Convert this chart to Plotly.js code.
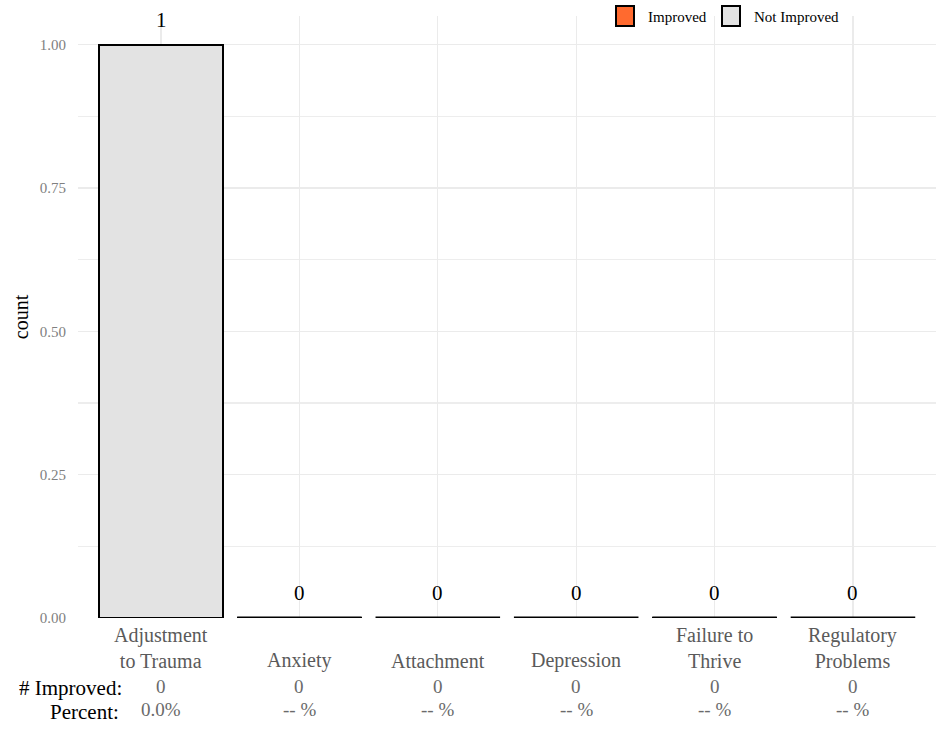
<!DOCTYPE html>
<html>
<head>
<meta charset="utf-8">
<script src="https://cdn.plot.ly/plotly-3.0.1.min.js"></script>
<style>html,body{margin:0;padding:0;background:#fff;}#chart{width:936px;height:731px;}</style>
</head>
<body>
<div id="chart"></div>
<script>
// ---- data ----
const categories = ["Adjustment to Trauma", "Anxiety", "Attachment", "Depression", "Failure to Thrive", "Regulatory Problems"];
const categoryLabels = ["Adjustment<br>to Trauma", "Anxiety", "Attachment", "Depression", "Failure to<br>Thrive", "Regulatory<br>Problems"];
const seriesNames = ["Improved", "Not Improved"];
const seriesColors = ["#FF6A2F", "#E3E3E3"];
const improved = [0, 0, 0, 0, 0, 0];
const notImproved = [1, 0, 0, 0, 0, 0];
const improvedLabels = ["0", "0", "0", "0", "0", "0"];
const percentLabels = ["0.0%", "-- %", "-- %", "-- %", "-- %", "-- %"];
const yTickVals = [0, 0.25, 0.5, 0.75, 1];
const yTickText = ["0.00", "0.25", "0.50", "0.75", "1.00"];

// ---- derived ----
const xIdx = categories.map((_, i) => i);
const totals = categories.map((_, i) => improved[i] + notImproved[i]);

const FONT = "Liberation Serif, Times New Roman, serif";
const W = 936, H = 731;
const M = {l: 78, r: 0, t: 16, b: 113};
const plotH = H - M.t - M.b, plotW = W - M.l - M.r;
const py = (pix) => (H - M.b - pix) / plotH;   // pixel row -> paper y
const px = (pix) => (pix - M.l) / plotW;       // pixel col -> paper x

const halfW = 0.45;
const zx = [], zy = [];
xIdx.forEach(i => {
  if (totals[i] === 0) { zx.push(i - halfW, i + halfW, null); zy.push(0, 0, null); }
});

const traces = [
  {type: 'bar', name: seriesNames[0], x: xIdx, y: improved, width: 0.9, showlegend: false,
   marker: {color: seriesColors[0], line: {color: '#000', width: 2}}, hoverinfo: 'skip'},
  {type: 'bar', name: seriesNames[1], x: xIdx, y: notImproved, width: 0.9, showlegend: false,
   marker: {color: seriesColors[1], line: {color: '#000', width: 2}}, hoverinfo: 'skip'},
  {type: 'scatter', mode: 'lines', x: zx, y: zy, showlegend: false,
   line: {color: '#000', width: 3}, hoverinfo: 'skip', cliponaxis: false}
];

const annotations = [];
xIdx.forEach(i => {
  annotations.push({x: i, y: totals[i], xref: 'x', yref: 'y', text: String(totals[i]),
    showarrow: false, yanchor: 'bottom', yshift: 11, font: {family: FONT, size: 21, color: '#000'}});
  annotations.push({x: i, y: py(674), xref: 'x', yref: 'paper', text: categoryLabels[i],
    showarrow: false, yanchor: 'bottom', font: {family: FONT, size: 20, color: '#5A5A5A'}});
  annotations.push({x: i, y: py(686), xref: 'x', yref: 'paper', text: improvedLabels[i],
    showarrow: false, yanchor: 'middle', font: {family: FONT, size: 19, color: '#6A6A6A'}});
  annotations.push({x: i, y: py(710), xref: 'x', yref: 'paper', text: percentLabels[i],
    showarrow: false, yanchor: 'middle', font: {family: FONT, size: 19, color: '#6A6A6A'}});
});
annotations.push({x: px(124), y: py(688), xref: 'paper', yref: 'paper', xanchor: 'right', yanchor: 'middle',
  text: '# Improved:', showarrow: false, font: {family: FONT, size: 21, color: '#000'}});
annotations.push({x: px(121), y: py(712), xref: 'paper', yref: 'paper', xanchor: 'right', yanchor: 'middle',
  text: 'Percent:', showarrow: false, font: {family: FONT, size: 21, color: '#000'}});

// custom legend (larger keys, like the reference)
const legendKeyX = [616, 722];
const legendTextX = [646, 752];
const shapes = [];
seriesNames.forEach((name, k) => {
  shapes.push({type: 'rect', xref: 'paper', yref: 'paper',
    x0: px(legendKeyX[k]), x1: px(legendKeyX[k] + 18), y0: py(26), y1: py(6),
    fillcolor: seriesColors[k], line: {color: '#000', width: 2}});
  annotations.push({x: px(legendTextX[k]), y: py(17), xref: 'paper', yref: 'paper', xanchor: 'left',
    yanchor: 'middle', text: name, showarrow: false, font: {family: FONT, size: 15, color: '#000'}});
});

const layout = {
  width: W, height: H, margin: M,
  paper_bgcolor: '#fff', plot_bgcolor: '#fff',
  barmode: 'stack', bargap: 0.1,
  font: {family: FONT},
  showlegend: false,
  xaxis: {type: 'linear', range: [-0.6, 5.6], tickvals: xIdx, showticklabels: false,
          showgrid: true, gridcolor: '#EBEBEB', gridwidth: 1.2, zeroline: false, ticks: '', fixedrange: true},
  yaxis: {range: [0, 1.05], tickvals: yTickVals, ticktext: yTickText, showgrid: true,
          gridcolor: '#EBEBEB', gridwidth: 1.5, zeroline: false,
          minor: {dtick: 0.125, showgrid: true, gridcolor: '#EDEDED', gridwidth: 1.2},
          ticks: 'outside', ticklen: 8, tickcolor: 'rgba(0,0,0,0)',
          tickfont: {family: FONT, size: 15, color: '#808080'},
          title: {text: 'count', font: {family: FONT, size: 20, color: '#000'}, standoff: 5}},
  shapes: shapes,
  annotations: annotations
};

Plotly.newPlot('chart', traces, layout, {displayModeBar: false, staticPlot: true});
</script>
</body>
</html>
